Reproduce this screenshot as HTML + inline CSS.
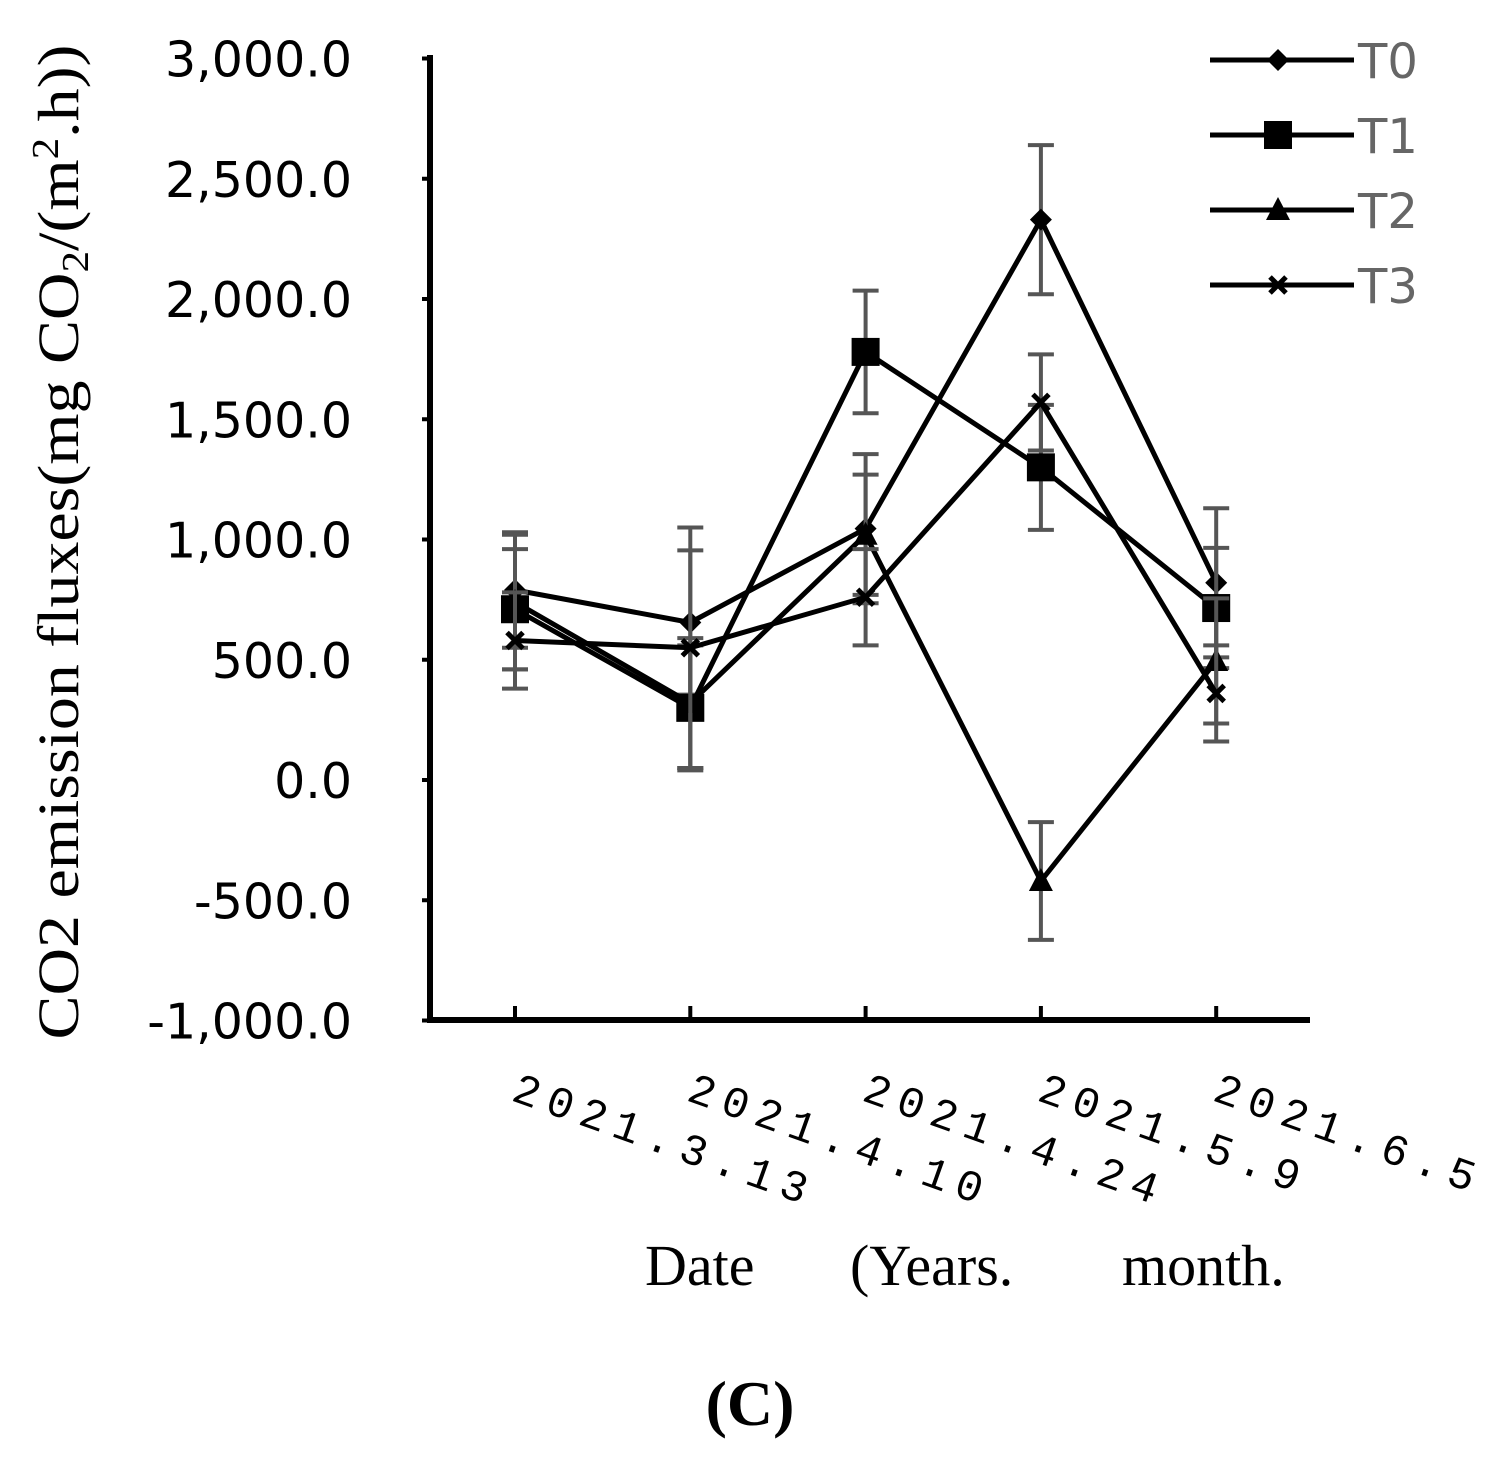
<!DOCTYPE html>
<html><head><meta charset="utf-8"><style>
body{margin:0;background:#fff}
svg{display:block}
</style></head><body>
<svg id="chart" width="1490" height="1460" xmlns="http://www.w3.org/2000/svg">
<g id="axes"></g><g id="marks"></g>
<text transform="translate(78,542) rotate(-90)" text-anchor="middle" font-family="Liberation Serif, serif" font-size="58" textLength="995" lengthAdjust="spacingAndGlyphs">CO2 emission fluxes(mg CO<tspan font-size="38" dy="10">2</tspan><tspan dy="-10">/(m</tspan><tspan font-size="38" dy="-20">2</tspan><tspan dy="20">.h))</tspan></text>
<g font-family="Liberation Serif, serif" font-size="58">
<text x="645" y="1285">Date</text>
<text x="850" y="1285">(Years.</text>
<text x="1122" y="1285">month.</text>
</g>
<text x="750" y="1425" text-anchor="middle" font-family="Liberation Serif, serif" font-weight="bold" font-size="64">(C)</text>
</svg>
<script>
const categories=["2021.3.13","2021.4.10","2021.4.24","2021.5.9","2021.6.5"];
const seriesNames=["T0","T1","T2","T3"];
const t0=[790,655,1045,2330,820];
const t1=[710,300,1780,1300,715];
const t2=[740,320,1020,-420,495];
const t3=[580,550,760,1570,360];
const t0err=[240,300,310,310,310];
const t1err=[250,260,255,260,250];
const t2err=[280,270,250,245,260];
const t3err=[200,500,200,200,200];
const yTicks=[3000,2500,2000,1500,1000,500,0,-500,-1000];
const yTickLabels=["3,000.0","2,500.0","2,000.0","1,500.0","1,000.0","500.0","0.0","-500.0","-1,000.0"];
const NS="http://www.w3.org/2000/svg";
const y=v=>780-v*0.2405;
const x=i=>515+i*175.3;
const axes=document.getElementById('axes'),marks=document.getElementById('marks');
function mk(tag,attrs,parent){const e=document.createElementNS(NS,tag);for(const k in attrs)e.setAttribute(k,attrs[k]);parent.appendChild(e);return e;}
let e=mk('line',{x1:430,y1:55,x2:430,y2:1022,stroke:'#000','stroke-width':6},axes);


e=mk('line',{x1:427,y1:1020,x2:1310,y2:1020,stroke:'#000','stroke-width':6},axes);


yTicks.forEach((v,i)=>{
 const t=mk('text',{x:352,y:y(v)+18,'text-anchor':'end','font-family':'DejaVu Sans, sans-serif','font-size':49},axes);
 t.textContent=yTickLabels[i];
 
 
 const tk=mk('line',{x1:422,y1:y(v),x2:430,y2:y(v),stroke:'#000','stroke-width':4},axes);
 
 
});
categories.forEach((c,i)=>{
 const tk=mk('line',{x1:x(i),y1:1006,x2:x(i),y2:1020,stroke:'#000','stroke-width':4},axes);
 
 
 const t=mk('text',{x:0,y:0,transform:`translate(${x(i)-5},${1100}) rotate(19.6)`,'font-family':'Liberation Mono, monospace','font-size':44,'letter-spacing':9},axes);
 t.textContent=c;
 
 
});
const data=[t0,t1,t2,t3],errs=[t0err,t1err,t2err,t3err],shapes=['diamond','square','triangle','x'];
function marker(shape,cx,cy,g){
 if(shape==='diamond')return mk('polygon',{points:`${cx},${cy-11} ${cx+11},${cy} ${cx},${cy+11} ${cx-11},${cy}`,fill:'#000'},g);
 if(shape==='square')return mk('rect',{x:cx-14,y:cy-14,width:28,height:28,fill:'#000'},g);
 if(shape==='triangle')return mk('polygon',{points:`${cx},${cy-13} ${cx+12},${cy+10} ${cx-12},${cy+10}`,fill:'#000'},g);
 return mk('path',{d:`M${cx-8} ${cy-8}L${cx+8} ${cy+8}M${cx+8} ${cy-8}L${cx-8} ${cy+8}`,stroke:'#000','stroke-width':5},g);
}
data.forEach((s,k)=>{
 const g=mk('g',{},marks);
 
 
 s.forEach((v,i)=>{
  const eb=mk('path',{d:`M${x(i)} ${y(v-errs[k][i])}V${y(v+errs[k][i])}M${x(i)-13} ${y(v-errs[k][i])}h26M${x(i)-13} ${y(v+errs[k][i])}h26`,stroke:'#555','stroke-width':4,fill:'none'},g);
  
  
 });
 const ln=mk('polyline',{points:s.map((v,i)=>x(i)+','+y(v)).join(' '),fill:'none',stroke:'#000','stroke-width':5},g);
 
 
 s.forEach((v,i)=>{const m=marker(shapes[k],x(i),y(v),g);
  
  });
 const lg=mk('g',{},marks);
 
 
 const ly=60+k*75;
 mk('line',{x1:1210,y1:ly,x2:1354,y2:ly,stroke:'#000','stroke-width':5},lg);
 marker(shapes[k],1278,ly,lg);
 const t=mk('text',{x:1358,y:ly+18,'font-family':'DejaVu Sans, sans-serif','font-size':48,fill:'#666'},lg);
 t.textContent=seriesNames[k];
});
</script>
</body></html>
